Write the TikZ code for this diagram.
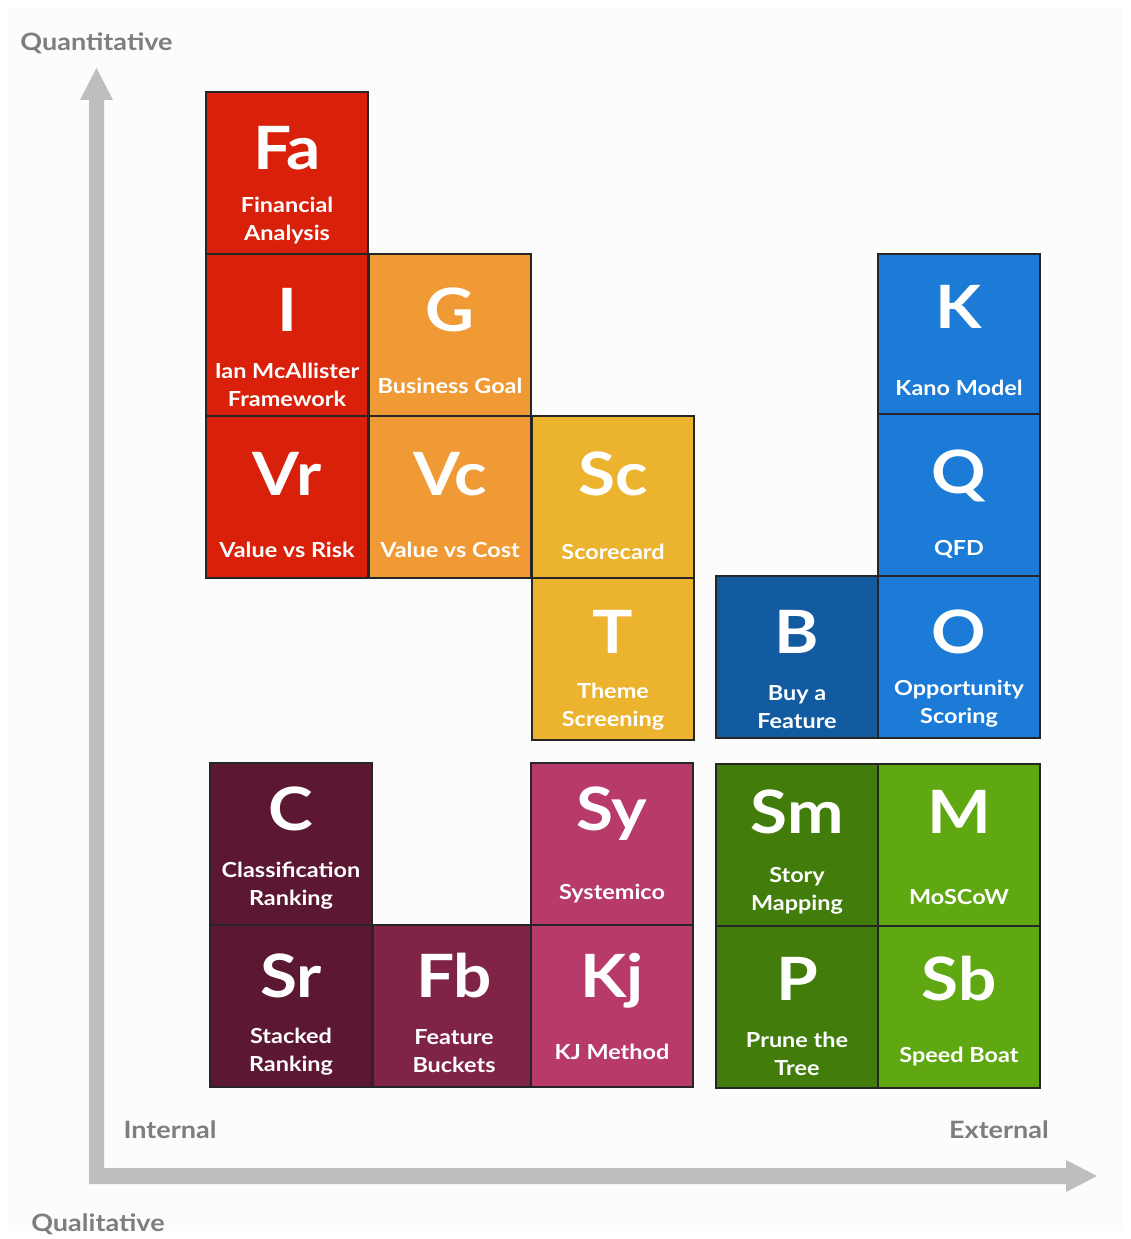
\documentclass[tikz,border=0pt]{standalone}
\usepackage{fontspec}
\setmainfont{Lato}[FakeStretch=1.13]
\usetikzlibrary{calc}

\definecolor{bgGray}{HTML}{FCFCFC}
\definecolor{axisGray}{HTML}{BEBEBE}
\definecolor{labelGray}{HTML}{7E7E7E}
\definecolor{redCell}{HTML}{D9200A}
\definecolor{orangeCell}{HTML}{F09A35}
\definecolor{yellowCell}{HTML}{ECB32F}
\definecolor{darkBlueCell}{HTML}{135BA0}
\definecolor{blueCell}{HTML}{1B7BD6}
\definecolor{maroonCell}{HTML}{5C1832}
\definecolor{plumCell}{HTML}{7F2347}
\definecolor{pinkCell}{HTML}{B73A6A}
\definecolor{darkGreenCell}{HTML}{427C0B}
\definecolor{greenCell}{HTML}{5FA812}

\tikzset{
  cell/.style={draw=black!85, line width=0.9pt, minimum width=3.25cm, minimum height=3.24cm, inner sep=0pt, anchor=north west},
  symb/.style={text=white, font=\bfseries\fontsize{34}{34}\selectfont, anchor=base, inner sep=0pt},
  elemname/.style={text=white, font=\bfseries\fontsize{11.8}{15.9}\selectfont, align=center, inner sep=0pt},
  axislabel/.style={text=labelGray, font=\bfseries\fontsize{13.6}{13.6}\selectfont, inner sep=0pt},
}

% #1 node name, #2,#3 top-left corner, #4 fill, #5 symbol, #6 method,
% #7 symbol baseline below top, #8 method centre below top
\newcommand{\elem}[8]{%
  \node[cell, fill=#4] (#1) at (#2,#3) {};
  \node[symb] (#1-sym) at ($(#1.north)+(0,#7)$) {#5};
  \node[elemname] (#1-txt) at ($(#1.north)+(0,#8)$) {#6};
}

\begin{document}
\begin{tikzpicture}[x=0.02cm, y=-0.02cm]
  \useasboundingbox[fill=white] (0,0) rectangle (1130,1239);
  \fill[bgGray] (8,8) rectangle (1122,1231);

  % axes
  \fill[axisGray] (89,1184) -- (89,100) -- (80,100) -- (96.5,68) -- (113,100) -- (104,100)
    -- (104,1168) -- (1066,1168) -- (1066,1160) -- (1097,1176) -- (1066,1192) -- (1066,1184) -- cycle;
  \node[axislabel] (quant) at (96.5,43) {Quantitative};
  \node[axislabel] (qual) at (98,1224) {Qualitative};
  \node[axislabel] (internal) at (170,1130) {Internal};
  \node[axislabel] (external) at (999,1130) {External};

  % quantitative methods
  \elem{fa}{205}{91}{redCell}{Fa}{Financial\\Analysis}{79}{130}
  \elem{i}{205}{253}{redCell}{I}{Ian McAllister\\Framework}{79}{132}
  \elem{g}{368}{253}{orangeCell}{G}{Business Goal}{79}{133}
  \elem{vr}{205}{415}{redCell}{Vr}{Value vs Risk}{80}{135}
  \elem{vc}{368}{415}{orangeCell}{Vc}{Value vs Cost}{80}{135}
  \elem{sc}{531}{415}{yellowCell}{Sc}{Scorecard}{80}{137}
  \elem{t}{531}{577}{yellowCell}{T}{Theme\\Screening}{76}{130}
  \elem{k}{877}{253}{blueCell}{K}{Kano Model}{76}{135}
  \elem{q}{877}{413}{blueCell}{Q}{QFD}{80}{136}
  \elem{b}{715}{575}{darkBlueCell}{B}{Buy a\\Feature}{78}{132}
  \elem{o}{877}{575}{blueCell}{O}{Opportunity\\Scoring}{78}{129}

  % qualitative methods
  \elem{c}{209}{762}{maroonCell}{C}{Classification\\Ranking}{68}{124}
  \elem{sr}{209}{924}{maroonCell}{Sr}{Stacked\\Ranking}{73}{128}
  \elem{fb}{372}{924}{plumCell}{Fb}{Feature\\Buckets}{73}{127}
  \elem{sy}{530}{762}{pinkCell}{Sy}{Systemico}{68}{132}
  \elem{kj}{530}{924}{pinkCell}{Kj}{KJ Method}{73}{128}
  \elem{sm}{715}{763}{darkGreenCell}{Sm}{Story\\Mapping}{70}{128}
  \elem{m}{877}{763}{greenCell}{M}{MoSCoW}{70}{134}
  \elem{p}{715}{925}{darkGreenCell}{P}{Prune the\\Tree}{75}{129}
  \elem{sb}{877}{925}{greenCell}{Sb}{Speed Boat}{75}{132}
\end{tikzpicture}
\end{document}
